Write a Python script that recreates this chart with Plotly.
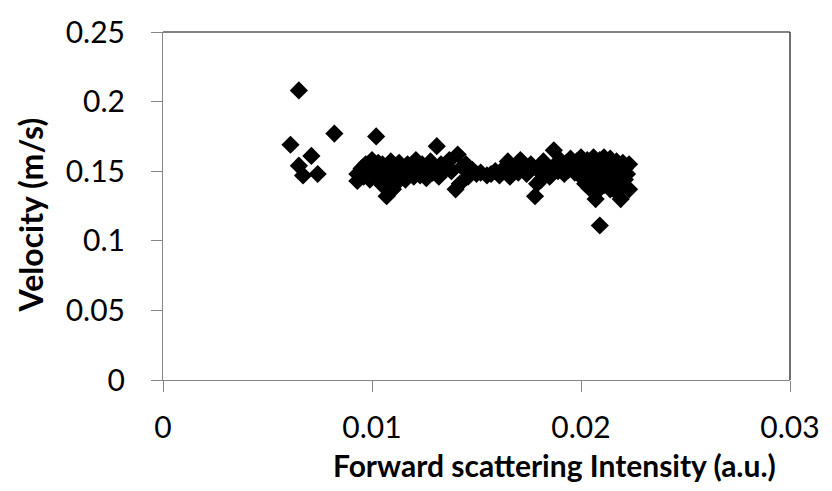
import plotly.graph_objects as go

x_tick_vals = [0, 0.01, 0.02, 0.03]
y_tick_vals = [0, 0.05, 0.1, 0.15, 0.2, 0.25]
x_title = "Forward scattering Intensity (a.u.)"
y_title = "Velocity (m/s)"

intensity = [
    0.0061, 0.0065, 0.0065, 0.0067, 0.0071, 0.0074, 0.0082, 0.0102,
    0.0093, 0.0093, 0.0095, 0.0096, 0.0097, 0.0098, 0.0099, 0.0100, 0.0100, 0.0101,
    0.0102, 0.0103, 0.0104, 0.0104, 0.0105, 0.0105, 0.0106, 0.0107, 0.0107, 0.0108,
    0.0109, 0.0109, 0.0110, 0.0110, 0.0111, 0.0112, 0.0112, 0.0113, 0.0114, 0.0115,
    0.0116, 0.0117, 0.0118, 0.0119, 0.0120, 0.0121, 0.0122, 0.0123, 0.0124, 0.0125,
    0.0126, 0.0127, 0.0128, 0.0129, 0.0130, 0.0131, 0.0132, 0.0133, 0.0134,
    0.0136, 0.0137, 0.0138, 0.0140, 0.0141, 0.0142, 0.0143, 0.0145, 0.0146, 0.0148,
    0.0150, 0.0152, 0.0155, 0.0157, 0.0159,
    0.0161, 0.0163, 0.0165, 0.0166, 0.0168, 0.0170, 0.0171, 0.0173, 0.0174, 0.0176,
    0.0178, 0.0179, 0.0180, 0.0181, 0.0182, 0.0184, 0.0185, 0.0187, 0.0188, 0.0189, 0.0190,
    0.0191, 0.0192, 0.0193, 0.0194, 0.0195, 0.0196, 0.0197, 0.0198, 0.0199, 0.0200,
    0.0200, 0.0201, 0.0202, 0.0202, 0.0203, 0.0204, 0.0204, 0.0205, 0.0206, 0.0206,
    0.0207, 0.0207, 0.0208, 0.0208, 0.0209, 0.0209, 0.0210, 0.0210, 0.0211, 0.0211,
    0.0212, 0.0212, 0.0213, 0.0213, 0.0214, 0.0214, 0.0215, 0.0215, 0.0216, 0.0216,
    0.0217, 0.0217, 0.0218, 0.0218, 0.0219, 0.0219, 0.0220, 0.0220, 0.0221, 0.0221,
    0.0222, 0.0223, 0.0223,
]

velocity = [
    0.169, 0.208, 0.154, 0.147, 0.161, 0.148, 0.177, 0.175,
    0.148, 0.143, 0.152, 0.146, 0.155, 0.149, 0.144, 0.153, 0.158, 0.147,
    0.151, 0.156, 0.145, 0.150, 0.155, 0.140, 0.148, 0.132, 0.153, 0.144,
    0.157, 0.150, 0.137, 0.146, 0.154, 0.149, 0.142, 0.156, 0.147, 0.152,
    0.144, 0.155, 0.149, 0.153, 0.146, 0.158, 0.151, 0.147, 0.155, 0.150,
    0.145, 0.153, 0.157, 0.149, 0.152, 0.168, 0.146, 0.155, 0.150,
    0.156, 0.158, 0.150, 0.137, 0.162, 0.141, 0.153, 0.155, 0.146, 0.151,
    0.148, 0.149, 0.147, 0.148, 0.150,
    0.147, 0.152, 0.157, 0.146, 0.153, 0.149, 0.158, 0.152, 0.148, 0.155,
    0.132, 0.141, 0.150, 0.144, 0.157, 0.152, 0.146, 0.165, 0.155, 0.150, 0.158,
    0.153, 0.148, 0.156, 0.151, 0.159, 0.154, 0.149, 0.157, 0.152, 0.160,
    0.146, 0.155, 0.141, 0.150, 0.158, 0.153, 0.138, 0.147, 0.160, 0.143,
    0.155, 0.130, 0.150, 0.136, 0.111, 0.158, 0.145, 0.153, 0.140, 0.160,
    0.148, 0.156, 0.143, 0.151, 0.159, 0.137, 0.154, 0.146, 0.150, 0.141,
    0.157, 0.135, 0.145, 0.153, 0.130, 0.149, 0.156, 0.140, 0.152, 0.144,
    0.148, 0.155, 0.137,
]

FONT = "Lato"

fig = go.Figure()
fig.add_trace(go.Scatter(
    x=intensity, y=velocity, mode="markers",
    marker=dict(symbol="diamond", size=14, color="black", line=dict(width=0)),
    showlegend=False,
))

axis_common = dict(
    showgrid=False, zeroline=False, showline=True, linecolor="#868686", linewidth=1,
    ticks="outside", ticklen=11, tickcolor="#868686", tickwidth=1,
    tickfont=dict(family=FONT, size=30, color="black"),
)

fig.update_xaxes(range=[0, 0.03], tickvals=x_tick_vals, ticklabelstandoff=10, **axis_common)
fig.update_yaxes(range=[0, 0.25], tickvals=y_tick_vals, ticklabelstandoff=20, **axis_common)

fig.add_annotation(text="<b>" + x_title + "</b>", xref="paper", yref="paper",
                   x=0.625, y=-0.245, xanchor="center", yanchor="middle", showarrow=False,
                   font=dict(family=FONT, size=30, color="black"))
fig.add_annotation(text="<b>" + y_title + "</b>", xref="paper", yref="paper",
                   x=-0.212, y=0.473, xanchor="center", yanchor="middle", showarrow=False,
                   textangle=-90, font=dict(family=FONT, size=32, color="black"))

fig.add_shape(type="line", xref="paper", yref="paper", x0=0, x1=1, y0=1, y1=1,
              line=dict(color="#5a5a5a", width=1.5))
fig.add_shape(type="line", xref="paper", yref="paper", x0=1, x1=1, y0=0, y1=1,
              line=dict(color="#404040", width=1.5))

fig.update_layout(
    width=832, height=491,
    margin=dict(l=163, r=37, t=25, b=111),
    paper_bgcolor="white", plot_bgcolor="white",
    font=dict(family=FONT, color="black"),
)

fig.write_html("out.html")
